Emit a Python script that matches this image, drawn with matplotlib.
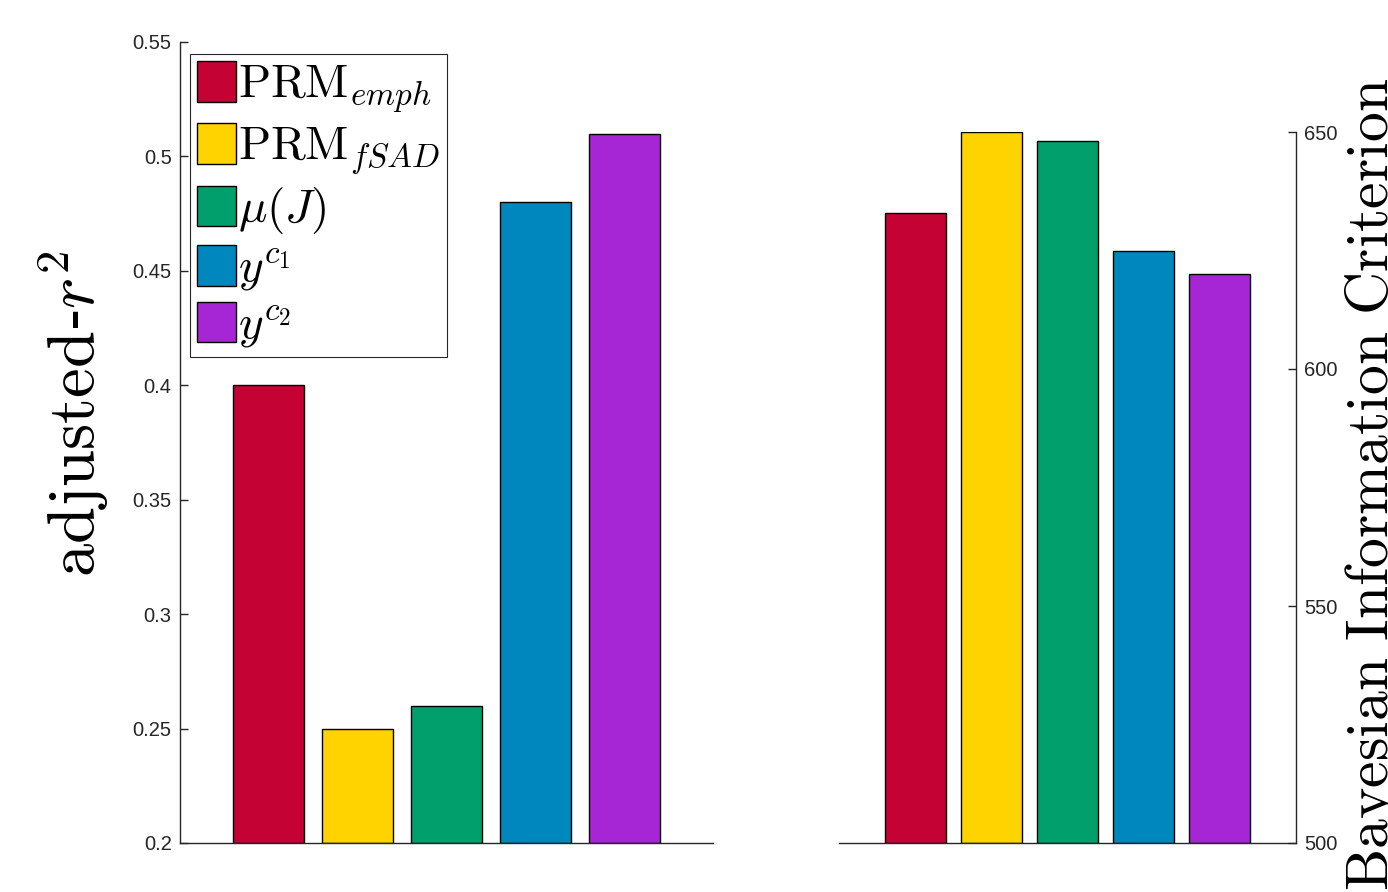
import numpy as np
import matplotlib
matplotlib.use('Agg')
import matplotlib.pyplot as plt
from matplotlib.patches import Patch

plt.rcParams['font.family'] = ['Liberation Sans', 'DejaVu Sans']
plt.rcParams['mathtext.fontset'] = 'cm'

# model labels and colours
labels = [r'$\mathrm{PRM}_{emph}$', r'$\mathrm{PRM}_{fSAD}$', r'$\mu(J)$',
          r'$y^{c_1}$', r'$y^{c_2}$']
colors = ['#C40233', '#FFD300', '#009F6B', '#0087BD', '#A626D6']

# scores per model
adj_r2 = [0.40, 0.25, 0.26, 0.48, 0.51]
bic = [633, 650, 648, 625, 620]

r2_ticks = [0.2, 0.25, 0.3, 0.35, 0.4, 0.45, 0.5, 0.55]
r2_ticklabels = ['0.2', '0.25', '0.3', '0.35', '0.4', '0.45', '0.5', '0.55']
bic_ticks = [500, 550, 600, 650]

W, H = 1388, 892
fig = plt.figure(figsize=(W / 100, H / 100), dpi=100)

spine_col = '#262626'
x = np.arange(1, len(labels) + 1)

# ---- left panel: adjusted r^2 ----
ax1 = fig.add_axes([180 / W, 1 - 843 / H, 533 / W, 801 / H])
ax1.bar(x, np.array(adj_r2) - 0.2, bottom=0.2, width=0.8, color=colors,
        edgecolor='black', linewidth=1.0, zorder=2)
ax1.set_xlim(0, 6)
ax1.set_ylim(0.2, 0.55)
ax1.set_yticks(r2_ticks)
ax1.set_yticklabels(r2_ticklabels)
ax1.set_xticks(x)
ax1.set_xticklabels([])
ax1.spines['top'].set_visible(False)
ax1.spines['right'].set_visible(False)
for s in ['left', 'bottom']:
    ax1.spines[s].set_color(spine_col)
    ax1.spines[s].set_linewidth(1.0)
ax1.tick_params(axis='both', direction='in', length=6, width=1.0, pad=6,
                color=spine_col, labelcolor=spine_col, labelsize=14.5)

handles = [Patch(facecolor=c, edgecolor='black', linewidth=1.0) for c in colors]
leg = ax1.legend(handles, labels, loc='upper left', bbox_to_anchor=(10 / 533, 1 - 12 / 801),
                 fontsize=34, frameon=True, fancybox=False, framealpha=1,
                 edgecolor=spine_col, handlelength=0.82, handleheight=0.95,
                 handletextpad=0.05, labelspacing=0.18, borderpad=0.15,
                 borderaxespad=0)
leg.get_frame().set_linewidth(0.8)

fig.text(74 / W, 1 - 414 / H, r'$\mathrm{adjusted}$-$r^2$', rotation=90,
         ha='center', va='center', fontsize=48)

# ---- right panel: BIC ----
ax2 = fig.add_axes([839 / W, 1 - 843 / H, 457 / W, 711 / H])
ax2.bar(x, np.array(bic) - 500, bottom=500, width=0.8, color=colors,
        edgecolor='black', linewidth=1.0, zorder=2)
ax2.set_xlim(0, 6)
ax2.set_ylim(500, 650)
ax2.set_yticks(bic_ticks)
ax2.set_xticks(x)
ax2.set_xticklabels([])
ax2.yaxis.tick_right()
ax2.spines['top'].set_visible(False)
ax2.spines['left'].set_visible(False)
for s in ['right', 'bottom']:
    ax2.spines[s].set_color(spine_col)
    ax2.spines[s].set_linewidth(1.0)
ax2.tick_params(axis='both', direction='in', length=6, width=1.0, pad=6,
                color=spine_col, labelcolor=spine_col, labelsize=14.5)

fig.text(1372 / W, 1 - 484 / H,
         r'$\mathrm{Bayesian\ Information\ Criterion}$', rotation=90,
         ha='center', va='center', fontsize=43)

fig.savefig('out.png', dpi=100)
